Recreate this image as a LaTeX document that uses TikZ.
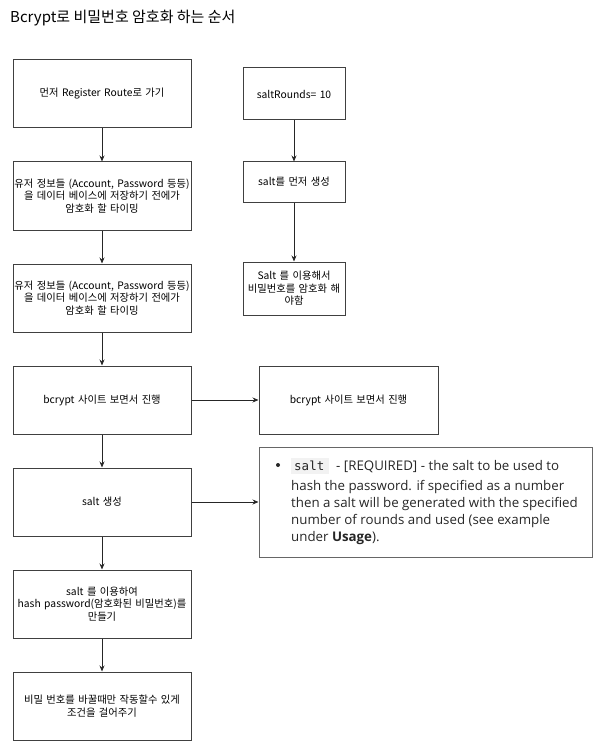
\documentclass[tikz,border=0pt]{standalone}
\usepackage{fontspec}
\setmainfont{Noto Sans CJK KR}
\newfontfamily\docfont{Open Sans}
\newfontfamily\codefont{DejaVu Sans Mono}
\usetikzlibrary{arrows.meta}
\begin{document}
\begin{tikzpicture}[x=1pt,y=-1pt,
  box/.style={draw=black!75,line width=1pt,fill=white,align=center,inner sep=1pt,
    font=\fontsize{10.3}{12.5}\selectfont},
  lbox/.style={box,minimum width=178pt,minimum height=68pt,text width=176pt},
  conn/.style={draw=black!85,line width=0.8pt,-{Stealth[length=6pt,width=5pt]}},
  doc/.style={anchor=base west,inner sep=0pt,font=\docfont\fontsize{13.3}{16}\selectfont,text=black!85}]
\useasboundingbox (0,0) rectangle (608,746);
\node[anchor=base west,inner sep=0pt,font=\fontsize{15}{17}\selectfont] (title) at (10,22.5) {Bcrypt로 비밀번호 암호화 하는 순서};
% left column
\node[lbox] (b1) at (102,94) {먼저 Register Route로 가기};
\node[lbox] (b2) at (102,196) {유저 정보들 (Account, Password 등등)\\을 데이터 베이스에 저장하기 전에가\\암호화 할 타이밍};
\node[lbox] (b3) at (102,298) {유저 정보들 (Account, Password 등등)\\을 데이터 베이스에 저장하기 전에가\\암호화 할 타이밍};
\node[lbox] (b4) at (102,400) {bcrypt 사이트 보면서 진행};
\node[lbox] (b5) at (102,502) {salt 생성};
\node[lbox] (b6) at (102,604) {salt 를 이용하여\\hash password(암호화된 비밀번호)를\\만들기};
\node[lbox] (b7) at (102,706) {비밀 번호를 바꿀때만 작동할수 있게\\조건을 걸어주기};
% right column
\node[box,minimum width=102pt,minimum height=52pt,text width=100pt] (r1) at (294,94) {saltRounds= 10};
\node[box,minimum width=102pt,minimum height=40pt,text width=100pt] (r2) at (294,182) {salt를 먼저 생성};
\node[box,minimum width=102pt,minimum height=53pt,text width=100pt] (r3) at (294,288.5) {Salt 를 이용해서\\비밀번호를 암호화 해\\야함};
\node[box,minimum width=179pt,minimum height=68pt,text width=177pt] (r4) at (348.5,400) {bcrypt 사이트 보면서 진행};
\node[draw=black!60,line width=1pt,minimum width=333pt,minimum height=110pt,inner sep=0pt] (r5) at (425.5,502) {};
% doc text
\fill[black!5] (291,457.5) rectangle (329,473.5);
\node[anchor=base west,inner sep=0pt,font=\codefont\fontsize{12.5}{15}\selectfont,text=black!85] (code) at (294,470.5) {salt};
\fill[black!85] (278,465) circle (2pt);
\node[doc] (l1) at (336,470.5) {- [REQUIRED] - the salt to be used to};
\node[doc] (l2) at (291,490.5) {hash the password. if specified as a number};
\node[doc] (l3) at (291,507.5) {then a salt will be generated with the specified};
\node[doc] (l4) at (291,524.3) {number of rounds and used (see example};
\node[doc] (l5) at (291,541) {under \textbf{Usage}).};
% connectors
\draw[conn] (b1) -- (b2);
\draw[conn] (b2) -- (b3);
\draw[conn] (b3) -- (b4);
\draw[conn] (b4) -- (b5);
\draw[conn] (b5) -- (b6);
\draw[conn] (b6) -- (b7);
\draw[conn] (r1) -- (r2);
\draw[conn] (r2) -- (r3);
\draw[conn] (b4) -- (r4);
\draw[conn] (b5) -- (r5);
\end{tikzpicture}
\end{document}
